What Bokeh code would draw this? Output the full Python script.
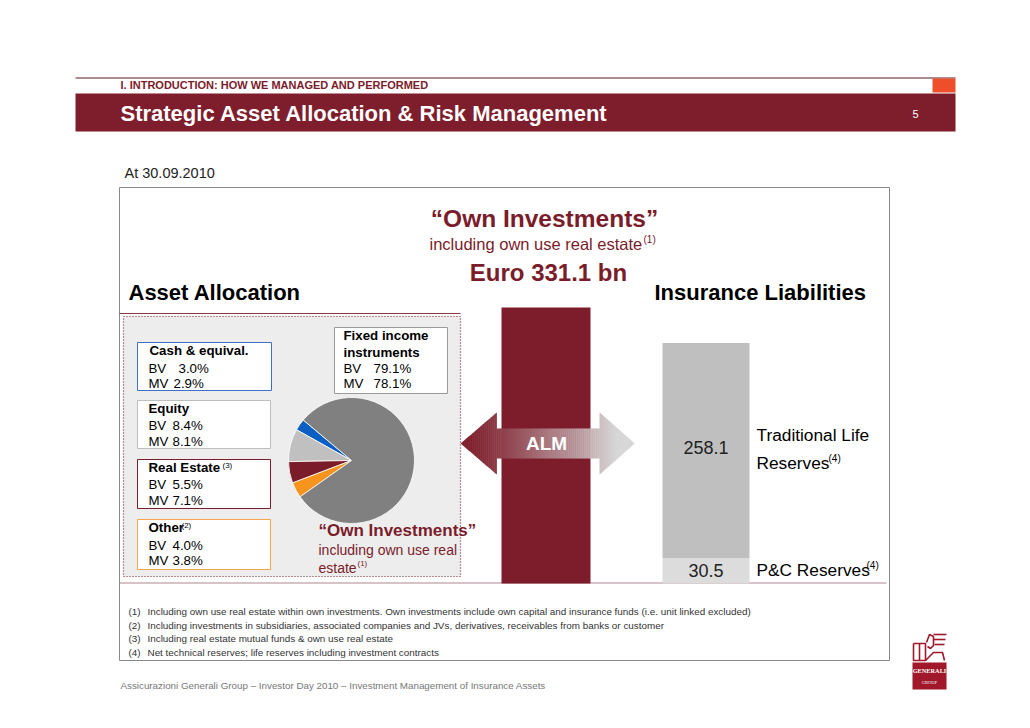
import numpy as np
from bokeh.plotting import figure
from bokeh.models import Range1d
from bokeh.core.properties import value
from bokeh.embed import file_html
from bokeh.resources import INLINE

# ---------------- data ----------------
asset_classes = ["Cash & equival.", "Equity", "Real Estate", "Other", "Fixed income"]
asset_bv = [3.0, 8.4, 5.5, 4.0, 79.1]
asset_mv = [2.9, 8.1, 7.1, 3.8, 78.1]
asset_notes = ["", "", "(3)", "(2)", ""]
own_investments_total = 331.1
liability_labels = ["P&C Reserves", "Traditional Life"]
liability_values = [30.5, 258.1]
footnotes = [
    "Including own use real estate within own investments. Own investments include own capital and insurance funds (i.e. unit linked excluded)",
    "Including investments in subsidiaries, associated companies and JVs, derivatives, receivables from banks or customer",
    "Including real estate mutual funds & own use real estate",
    "Net technical reserves; life reserves including investment contracts",
]

# ---------------- styles ----------------
MAROON = "#7B1C2A"
FONT = "Liberation Sans"
pie_colors = ["#0B5EC4", "#C0C0C0", "#7B1C2A", "#F7941E", "#808080"]
box_colors = ["#3F6FC6", "#BDBDBD", "#7B1C2A", "#F5A54A", "#9A9A9A"]

p = figure(width=1014, height=712, x_range=Range1d(0, 1014), y_range=Range1d(-712, 0),
           output_backend="svg", toolbar_location=None, min_border=0,
           x_axis_location=None, y_axis_location=None)
p.grid.visible = False
p.outline_line_color = None
p.background_fill_color = "white"
p.border_fill_color = "white"

# value scale for the bars: 0 at baseline, total at bar top
BASE, TOP = 583, 307
k = own_investments_total / (BASE - TOP)
p.extra_y_ranges = {"val": Range1d((-712 + BASE) * k, (0 + BASE) * k)}


def T(x, y, s, size, color="#000000", bold=False, align="left", font=FONT):
    p.text(x=[x], y=[-y], text=[s], text_font=value(font), text_font_size=f"{size}px",
           text_color=color, text_font_style="bold" if bold else "normal",
           text_align=align, text_baseline="middle")


def R(l, r, t, b, fill=None, line=None, lw=1, dash="solid"):
    p.quad(left=[l], right=[r], top=[-t], bottom=[-b], fill_color=fill,
           fill_alpha=1 if fill else 0, line_color=line, line_width=lw, line_dash=dash)


# ---------------- header ----------------
p.line(x=[75, 955], y=[-77.5, -77.5], line_color="#5a1a22", line_width=1)
R(932, 955, 78, 92, fill="#EE4E2A", line=None)
T(120, 84.5, "I. INTRODUCTION: HOW WE MANAGED AND PERFORMED", 11, MAROON, bold=True)
R(75, 955, 93, 131, fill="#7E1D2B", line=None)
T(120, 113, "Strategic Asset Allocation & Risk Management", 22, "white", bold=True)
T(912, 113, "5", 11, "white")

T(124, 172, "At 30.09.2010", 14.5, "#222222")

# big box
R(119, 889, 187, 660, fill=None, line="#8a8a8a", lw=1)

# titles
T(544, 218, "\u201cOwn Investments\u201d", 24.5, MAROON, bold=True, align="center")
T(429, 243, "including own use real estate", 16.5, MAROON)
T(643, 239, "(1)", 10, MAROON)
T(548, 272, "Euro %.1f bn" % own_investments_total, 24, MAROON, bold=True, align="center")
T(128, 292, "Asset Allocation", 22, "#000000", bold=True)
T(654, 292, "Insurance Liabilities", 22, "#000000", bold=True)

# asset allocation panel
R(123, 460, 316, 576, fill="#EDEDED", line=None)
p.line(x=[119, 460], y=[-313, -313], line_color="#8B3A45", line_width=1)
R(123, 460, 316, 576, fill=None, line=MAROON, lw=1.2, dash="1 2")
p.line(x=[119, 886], y=[-582.5, -582.5], line_color="#B08890", line_width=1)

# pie from BV shares
start = 140.0
angles = [float(a) for a in np.cumsum([0] + asset_bv) * 3.6 + start]
p.wedge(x=[351] * 5, y=[-460] * 5, radius=63, start_angle=angles[:-1],
        end_angle=angles[1:], start_angle_units="deg", end_angle_units="deg",
        fill_color=pie_colors, line_color="white", line_width=0.8)

# label boxes
boxes = [(137, 271, 342, 390), (137, 270, 400, 448), (137, 270, 459, 508), (137, 270, 519, 569)]
rows = [(350, 368, 383), (408, 425, 441), (467, 484, 500), (527, 545, 560)]
vx = [(178, 173), (172, 172), (172, 172), (172, 172)]
tx = [149, 148, 148, 148]
for i in range(4):
    l, r, t, b = boxes[i]
    R(l, r, t, b, fill="white", line=box_colors[i], lw=1)
    T(tx[i], rows[i][0], asset_classes[i], 13.3, "#000000", bold=True)
    if asset_notes[i]:
        xx = 222 if i == 2 else 181
        T(xx, rows[i][0] - 2, asset_notes[i], 8, "#000000")
    T(148, rows[i][1], "BV", 13.3, "#000000")
    T(vx[i][0], rows[i][1], "%.1f%%" % asset_bv[i], 13.3, "#000000")
    T(148, rows[i][2], "MV", 13.3, "#000000")
    T(vx[i][1], rows[i][2], "%.1f%%" % asset_mv[i], 13.3, "#000000")

R(334, 447, 327, 393, fill="white", line=box_colors[4], lw=1)
T(343, 335, "Fixed income", 13.3, "#000000", bold=True)
T(343, 352, "instruments", 13.3, "#000000", bold=True)
T(343, 368, "BV", 13.3, "#000000")
T(373, 368, "%.1f%%" % asset_bv[4], 13.3, "#000000")
T(343, 383, "MV", 13.3, "#000000")
T(373, 383, "%.1f%%" % asset_mv[4], 13.3, "#000000")

T(318, 530, "\u201cOwn Investments\u201d", 17, MAROON, bold=True)
T(318, 549, "including own use real", 14, MAROON)
T(318, 567, "estate", 14, MAROON)
T(357, 563, "(1)", 8, MAROON)

# own investments bar
p.quad(left=[501], right=[590], bottom=[0], top=[own_investments_total],
       fill_color="#7D1C2A", line_color=None, y_range_name="val")

# liabilities stacked bar
lb = [0, liability_values[0]]
lt = [liability_values[0], liability_values[0] + liability_values[1]]
p.quad(left=[662, 662], right=[749, 749], bottom=lb, top=lt,
       fill_color=["#DCDCDC", "#BFBFBF"], line_color=None, y_range_name="val")
mids = [(a + b) / 2 for a, b in zip(lb, lt)]
p.text(x=[705.5, 705.5], y=[mids[0], mids[1] + 4], text=["%.1f" % v for v in liability_values],
       text_font=value(FONT), text_font_size="18px", text_color="#222222",
       text_align="center", text_baseline="middle", y_range_name="val")

T(756, 569, liability_labels[0], 17.3, "#000000")
T(866, 565, "(4)", 10, "#000000")
T(756, 434, liability_labels[1], 17.3, "#000000")
T(756, 462, "Reserves", 17.3, "#000000")
T(828, 458, "(4)", 10, "#000000")

# ALM double arrow with gradient (drawn as thin strips)
cy = 443
c0 = np.array([125, 28, 42]); c1 = np.array([214, 214, 214])
xs, ys, cols = [], [], []
segs = [(np.linspace(460, 496, 19), "L"), (np.linspace(496, 599, 52), "S"), (np.linspace(599, 634, 18), "R")]
for e, kind in segs:
    for a, b in zip(e[:-1], e[1:]):
        a = float(a); b = float(b)
        if kind == "L":
            ha, hb = 31 * (a - 460) / 36, 31 * (b - 460) / 36
        elif kind == "S":
            ha = hb = 15
        else:
            ha, hb = 31 * (634 - a) / 35, 31 * (634 - b) / 35
        m = (a + b) / 2
        xs.append([a, b + 0.4, b + 0.4, a])
        ys.append([-(cy - ha), -(cy - hb), -(cy + hb), -(cy + ha)])
        t = min(max((m - 465) / 150, 0), 1) ** 1.15
        c = (c0 + (c1 - c0) * t).astype(int)
        cols.append("#%02x%02x%02x" % tuple(int(v) for v in c))
p.patches(xs=xs, ys=ys, fill_color=cols, line_color=None)
T(546, 443, "ALM", 19, "white", bold=True, align="center")

# footnotes
for i, s in enumerate(footnotes):
    yy = 611 + i * 13.7
    T(128, yy, "(%d)" % (i + 1), 9.9, "#333333")
    T(147, yy, s, 9.9, "#333333")

T(120, 685, "Assicurazioni Generali Group \u2013 Investor Day 2010 \u2013 Investment Management of Insurance Assets", 9.8, "#777777")

# logo (simplified)
R(912, 946, 662, 689, fill="#A0182A", line=None)
T(929, 670, "GENERALI", 6.3, "white", bold=True, align="center", font="Liberation Serif")
T(929, 682, "GROUP", 4.5, "white", align="center", font="Liberation Serif")
p.multi_line(xs=[[913, 913, 925, 925, 913], [919, 919], [926, 929, 933, 933, 930, 927],
                 [933, 946], [933, 945], [934, 944], [925, 933, 942, 944]],
             ys=[[-643, -660, -660, -643, -643], [-643, -660], [-642, -634, -636, -645, -648, -646],
                 [-634, -634], [-639, -639], [-644, -644], [-660, -652, -652, -660]],
             line_color="#A0182A", line_width=1.6)

open("out.html", "w").write(file_html(p, INLINE))
